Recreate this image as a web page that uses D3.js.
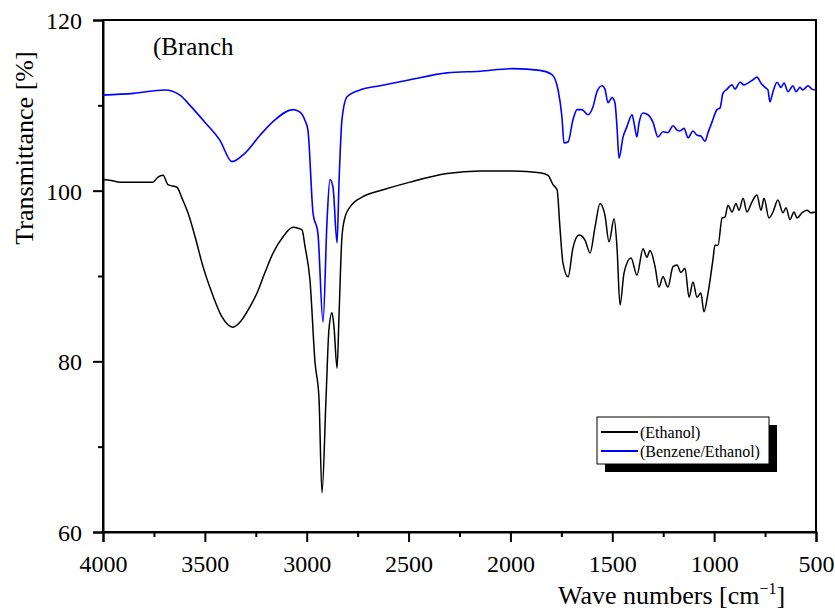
<!DOCTYPE html>
<html>
<head>
<meta charset="utf-8">
<script src="https://cdn.jsdelivr.net/npm/d3@7"></script>
</head>
<body style="margin:0">
<div id="chart"></div>
<script>
// values
const ethanolWave = [4000, 3960, 3917, 3853, 3755, 3730, 3705, 3681, 3637, 3612, 3583, 3548, 3509, 3465, 3416, 3362, 3327, 3288, 3244, 3205, 3165, 3116, 3067, 3043, 3023, 3008, 2984, 2959, 2940, 2925, 2905, 2891, 2876, 2866, 2851, 2841, 2827, 2812, 2787, 2724, 2625, 2493, 2311, 2149, 1987, 1855, 1815, 1791, 1771, 1757, 1742, 1717, 1693, 1663, 1634, 1609, 1585, 1560, 1536, 1516, 1491, 1477, 1462, 1442, 1408, 1379, 1349, 1330, 1315, 1290, 1271, 1251, 1227, 1202, 1182, 1163, 1143, 1123, 1104, 1084, 1065, 1050, 1030, 1006, 996, 981, 961, 947, 932, 912, 893, 878, 858, 839, 814, 790, 770, 755, 731, 711, 687, 662, 647, 628, 608, 593, 569, 544, 525, 505];
const ethanolT = [101.3, 101.2, 101.0, 101.0, 101.0, 101.6, 101.8, 100.7, 100.4, 99.1, 97.4, 94.6, 91.1, 88.0, 85.2, 84.0, 84.6, 86.0, 88.0, 90.4, 92.7, 94.6, 95.7, 95.6, 95.4, 93.4, 89.5, 79.8, 75.8, 64.6, 75.8, 83.7, 85.7, 84.0, 79.2, 85.7, 94.6, 96.9, 98.1, 99.3, 100.1, 101.0, 102.0, 102.3, 102.3, 102.1, 101.8, 100.7, 100.1, 95.7, 91.5, 89.9, 93.3, 94.8, 94.2, 92.7, 95.7, 98.5, 97.1, 94.0, 96.7, 93.4, 86.6, 90.4, 92.1, 90.1, 93.2, 92.2, 93.0, 91.1, 88.7, 89.9, 88.7, 91.1, 91.3, 90.4, 90.9, 87.5, 89.3, 87.5, 88.0, 85.8, 88.0, 91.9, 93.6, 93.6, 96.8, 96.9, 98.3, 97.5, 98.5, 97.7, 99.1, 97.5, 98.7, 99.5, 97.7, 99.1, 96.8, 97.5, 98.9, 97.4, 98.0, 96.6, 97.5, 96.8, 97.4, 97.7, 97.4, 97.5];

const benzeneWave = [4000, 3850, 3696, 3622, 3573, 3499, 3426, 3367, 3303, 3229, 3156, 3067, 3033, 3008, 2994, 2969, 2945, 2920, 2900, 2886, 2871, 2851, 2841, 2827, 2802, 2738, 2640, 2493, 2311, 2149, 1987, 1855, 1796, 1766, 1747, 1737, 1717, 1693, 1673, 1649, 1619, 1595, 1575, 1550, 1536, 1521, 1501, 1487, 1477, 1467, 1447, 1428, 1403, 1393, 1379, 1369, 1349, 1325, 1300, 1276, 1251, 1227, 1202, 1182, 1168, 1148, 1128, 1104, 1084, 1065, 1045, 1030, 1011, 986, 971, 957, 937, 912, 898, 873, 853, 834, 809, 790, 770, 750, 736, 726, 711, 691, 672, 657, 637, 613, 598, 579, 564, 539, 520, 505];
const benzeneT = [111.2, 111.4, 111.8, 111.2, 110.0, 108.0, 105.9, 103.4, 104.4, 106.5, 108.3, 109.5, 109.2, 108.2, 107.1, 97.4, 95.0, 84.6, 96.6, 101.3, 100.4, 93.9, 101.3, 108.3, 111.0, 111.8, 112.3, 113.0, 113.8, 114.0, 114.3, 114.1, 113.6, 111.8, 108.6, 105.6, 105.7, 108.3, 109.5, 109.5, 108.9, 109.8, 111.6, 112.3, 111.9, 110.3, 110.9, 110.3, 107.5, 103.8, 106.3, 107.5, 108.9, 107.9, 106.3, 107.9, 109.1, 108.9, 108.0, 106.3, 106.9, 106.8, 107.6, 107.1, 107.0, 107.3, 106.2, 107.0, 106.5, 106.4, 105.8, 106.8, 108.0, 109.5, 109.7, 111.4, 111.9, 112.4, 111.9, 112.7, 112.4, 112.6, 113.0, 113.3, 112.6, 112.1, 111.8, 110.4, 111.6, 112.7, 112.1, 112.6, 111.6, 112.3, 111.6, 112.1, 111.8, 112.3, 111.9, 111.8];

const xTicks = [4000, 3500, 3000, 2500, 2000, 1500, 1000, 500];
const xMinor = [3750, 3250, 2750, 2250, 1750, 1250, 750];
const yTicks = [60, 80, 100, 120];
const yMinor = [70, 90, 110];
const seriesNames = ["(Ethanol)", "(Benzene/Ethanol)"];
const colours = ["#000000", "#0000ff"];

const serif = '"Liberation Serif", monospace';
const width = 835, height = 609;
const margin = { top: 20, right: 19, bottom: 77, left: 103 };

const svg = d3.select("#chart").append("svg")
    .attr("width", width)
    .attr("height", height);

const x = d3.scaleLinear().domain([4000, 500]).range([margin.left, width - margin.right]);
const y = d3.scaleLinear().domain([60, 120]).range([height - margin.bottom, margin.top]);

// frame: top and right lines
svg.append("rect")
    .attr("x", x(4000)).attr("y", y(120))
    .attr("width", x(500) - x(4000)).attr("height", y(60) - y(120))
    .attr("fill", "none").attr("stroke", "#000").attr("stroke-width", 2);

const xAxis = svg.append("g")
    .attr("transform", `translate(0,${y(60)})`)
    .call(d3.axisBottom(x).tickValues(xTicks).tickSize(10).tickPadding(13).tickFormat(d3.format("d")));
xAxis.attr("font-family", null);
xAxis.selectAll("line").attr("stroke-width", 2);
xAxis.select(".domain").attr("stroke-width", 2);
xAxis.selectAll("text").attr("font-size", 24).attr("fill", "#000").style("font-family", serif);

svg.append("g")
    .attr("transform", `translate(0,${y(60)})`)
    .call(d3.axisBottom(x).tickValues(xMinor).tickSize(5).tickFormat(""))
    .call(g => g.select(".domain").remove())
    .selectAll("line").attr("stroke-width", 2);

const yAxis = svg.append("g")
    .attr("transform", `translate(${x(4000)},0)`)
    .call(d3.axisLeft(y).tickValues(yTicks).tickSize(10).tickPadding(11));
yAxis.attr("font-family", null);
yAxis.selectAll("line").attr("stroke-width", 2);
yAxis.select(".domain").attr("stroke-width", 2);
yAxis.selectAll("text").attr("font-size", 24).attr("fill", "#000").attr("dy", "0.35em")
    .style("font-family", serif);

svg.append("g")
    .attr("transform", `translate(${x(4000)},0)`)
    .call(d3.axisLeft(y).tickValues(yMinor).tickSize(5).tickFormat(""))
    .call(g => g.select(".domain").remove())
    .selectAll("line").attr("stroke-width", 2);

// spectra
const line = d3.line()
    .x(d => x(d[0]))
    .y(d => y(d[1]))
    .curve(d3.curveMonotoneX);

const series = [
    d3.zip(ethanolWave, ethanolT),
    d3.zip(benzeneWave, benzeneT)
];

svg.selectAll("path.spectrum")
    .data(series)
    .join("path")
    .attr("class", "spectrum")
    .attr("d", line)
    .attr("fill", "none")
    .attr("stroke", (d, i) => colours[i])
    .attr("stroke-width", (d, i) => i === 0 ? 1.5 : 1.6)
    .attr("stroke-linejoin", "round");

// title text inside plot
svg.append("text")
    .attr("x", 153).attr("y", 55)
    .attr("font-size", 25)
    .style("font-family", serif)
    .text("(Branch");

// axis titles
svg.append("text")
    .attr("transform", "translate(33,148) rotate(-90)")
    .attr("text-anchor", "middle")
    .attr("font-size", 26)
    .style("font-family", serif)
    .text("Transmittance [%]");

const xl = svg.append("text")
    .attr("x", 558).attr("y", 604)
    .attr("font-size", 26)
    .style("font-family", serif);
xl.append("tspan").text("Wave numbers [cm");
xl.append("tspan").attr("font-size", 16).attr("dy", -10).text("\u22121");
xl.append("tspan").attr("dy", 10).text("]");

// legend
const lg = svg.append("g").attr("transform", "translate(597,417)");
lg.append("rect").attr("x", 8).attr("y", 8).attr("width", 172).attr("height", 47).attr("fill", "#000");
lg.append("rect").attr("x", 0).attr("y", 0).attr("width", 172).attr("height", 47)
    .attr("fill", "#fff").attr("stroke", "#000").attr("stroke-width", 1);
seriesNames.forEach((name, i) => {
    const ry = 15 + i * 19;
    lg.append("line").attr("x1", 4).attr("x2", 41).attr("y1", ry).attr("y2", ry)
        .attr("stroke", colours[i]).attr("stroke-width", 2);
    lg.append("text").attr("x", 43).attr("y", ry).attr("dy", "0.35em")
        .attr("font-size", 16)
        .style("font-family", serif)
        .text(name);
});
</script>
</body>
</html>
